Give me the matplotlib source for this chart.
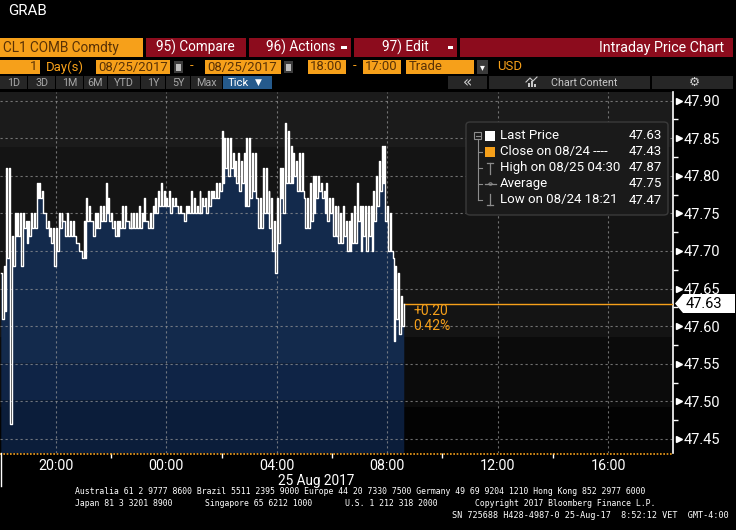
import numpy as np
import matplotlib
matplotlib.use("Agg")
import matplotlib.pyplot as plt
from matplotlib.patches import Rectangle, Polygon, FancyBboxPatch, Circle
from matplotlib.lines import Line2D
from matplotlib import font_manager as fm
from matplotlib.transforms import blended_transform_factory

# ---------------- data ----------------
title = "GRAB"
ticker = "CL1 COMB Comdty"
bar_minutes = 6  # each entry below covers 6 minutes, starting 18:00 on 08/24
price_hi = [47.67, 47.68, 47.81, 47.81, 47.72, 47.75, 47.75, 47.75, 47.75, 47.74,
            47.74, 47.75, 47.75, 47.79, 47.79, 47.78, 47.75, 47.74, 47.73, 47.73,
            47.73, 47.75, 47.75, 47.74, 47.75, 47.74, 47.74, 47.72, 47.71, 47.70,
            47.74, 47.77, 47.76, 47.74, 47.75, 47.75, 47.76, 47.76, 47.79, 47.77,
            47.75, 47.74, 47.74, 47.74, 47.76, 47.76, 47.74, 47.75, 47.75, 47.75,
            47.76, 47.75, 47.77, 47.74, 47.75, 47.76, 47.77, 47.78, 47.79, 47.78,
            47.77, 47.78, 47.77, 47.77, 47.76, 47.76, 47.75, 47.76, 47.76, 47.78,
            47.77, 47.76, 47.78, 47.77, 47.77, 47.78, 47.78, 47.78, 47.79, 47.79,
            47.86, 47.85, 47.85, 47.85, 47.83, 47.82, 47.83, 47.82, 47.83, 47.85,
            47.85, 47.83, 47.83, 47.77, 47.77, 47.81, 47.81, 47.78, 47.77, 47.74,
            47.77, 47.81, 47.81, 47.87, 47.86, 47.84, 47.83, 47.82, 47.83, 47.83,
            47.77, 47.77, 47.79, 47.80, 47.80, 47.80, 47.79, 47.78, 47.79, 47.77,
            47.77, 47.76, 47.76, 47.75, 47.76, 47.74, 47.74, 47.75, 47.76, 47.79,
            47.76, 47.76, 47.76, 47.76, 47.76, 47.78, 47.80, 47.82, 47.84, 47.84,
            47.76, 47.75, 47.69, 47.68, 47.67, 47.64]
price_lo = [47.61, 47.62, 47.69, 47.47, 47.68, 47.72, 47.72, 47.68, 47.73, 47.71,
            47.72, 47.73, 47.73, 47.77, 47.77, 47.75, 47.73, 47.72, 47.71, 47.68,
            47.70, 47.73, 47.74, 47.72, 47.72, 47.72, 47.72, 47.71, 47.70, 47.69,
            47.69, 47.74, 47.74, 47.72, 47.73, 47.73, 47.74, 47.74, 47.75, 47.74,
            47.73, 47.72, 47.72, 47.73, 47.73, 47.74, 47.73, 47.73, 47.73, 47.73,
            47.73, 47.74, 47.74, 47.73, 47.73, 47.75, 47.75, 47.76, 47.76, 47.76,
            47.76, 47.75, 47.76, 47.76, 47.75, 47.75, 47.74, 47.75, 47.75, 47.75,
            47.75, 47.75, 47.75, 47.76, 47.75, 47.76, 47.77, 47.77, 47.77, 47.78,
            47.79, 47.81, 47.80, 47.81, 47.80, 47.79, 47.78, 47.79, 47.76, 47.76,
            47.77, 47.78, 47.77, 47.73, 47.73, 47.75, 47.75, 47.73, 47.70, 47.67,
            47.71, 47.77, 47.75, 47.79, 47.79, 47.79, 47.80, 47.78, 47.78, 47.78,
            47.73, 47.73, 47.74, 47.75, 47.77, 47.78, 47.77, 47.75, 47.74, 47.75,
            47.72, 47.72, 47.71, 47.71, 47.72, 47.70, 47.70, 47.71, 47.71, 47.74,
            47.70, 47.72, 47.70, 47.72, 47.70, 47.74, 47.76, 47.78, 47.79, 47.74,
            47.70, 47.70, 47.58, 47.61, 47.59, 47.60]
last_price = 47.63
prev_close = 47.43
change_abs = "+0.20"
change_pct = "0.42%"
legend_labels = ["Last Price", "Close on 08/24 ----", "High on 08/25 04:30", "Average", "Low on 08/24 18:21"]
legend_values = ["47.63", "47.43", "47.87", "47.75", "47.47"]
x_tick_hours = [2, 6, 10, 14, 18, 22]          # hours after 18:00
x_tick_labels = ["20:00", "00:00", "04:00", "08:00", "12:00", "16:00"]
x_minor_hours = [4, 8, 12, 16, 20]
date_label = "25 Aug 2017"
y_ticks = [47.45, 47.50, 47.55, 47.60, 47.65, 47.70, 47.75, 47.80, 47.85, 47.90]
y_minor = [47.475, 47.525, 47.575, 47.625, 47.675, 47.725, 47.775, 47.825, 47.875]

# ---------------- fonts ----------------
names = {f.name for f in fm.fontManager.ttflist}
if "Liberation Sans Narrow" in names:
    NARROW, NS = "Liberation Sans Narrow", 1.0
else:
    NARROW, NS = ("Roboto" if "Roboto" in names else "DejaVu Sans"), 0.82
SANS = "Roboto" if "Roboto" in names else "DejaVu Sans"
MONO = "DejaVu Sans Mono"
SYM = "DejaVu Sans"

ORANGE = "#f6a01a"
RED = "#8c0c1d"
DARKTXT = "#5a3206"
BTN = "#262626"

W, H = 736, 530
fig = plt.figure(figsize=(W / 100, H / 100), dpi=100, facecolor="black")


def rect(x0, y0, x1, y1, fc, ec="none", lw=0):
    fig.patches.append(Rectangle((x0 / W, 1 - y1 / H), (x1 - x0) / W, (y1 - y0) / H,
                                 transform=fig.transFigure, facecolor=fc, edgecolor=ec, lw=lw))


def txt(x, y, s, size, color="white", ha="left", va="center", family=None, **kw):
    fig.text(x / W, 1 - y / H, s, fontsize=size, color=color, ha=ha, va=va,
             family=family or NARROW, **kw)


def fline(xs, ys, color, lw=1.0):
    fig.add_artist(Line2D([x / W for x in xs], [1 - y / H for y in ys],
                          transform=fig.transFigure, color=color, lw=lw))


# ---------------- header ----------------
txt(8, 11, title, 12 * NS / 0.9 if NS < 1 else 12)
rect(0, 38, 143, 57, ORANGE)
txt(3, 48, ticker, 12 * NS, DARKTXT)
rect(146, 38, 246, 57, RED)
txt(156, 47.5, "95) Compare", 12 * NS)
rect(249, 38, 351, 57, RED)
txt(266, 47.5, "96) Actions", 12 * NS)
rect(341, 46, 347, 49, "white")
rect(354, 38, 457, 57, RED)
txt(382, 47.5, "97) Edit", 12 * NS)
rect(448, 46, 453, 49, "white")
rect(460, 38, 733, 57, RED)
txt(724, 48, "Intraday Price Chart", 12.5 * NS, ha="right")

rect(0, 60, 40, 74, ORANGE)
txt(37, 67, "1", 11.5 * NS, DARKTXT, ha="right")
txt(46, 67, "Day(s)", 11.5 * NS, ORANGE)
rect(96, 60, 170, 74, ORANGE)
txt(98, 67, "08/25/2017", 11.5 * NS, DARKTXT)
rect(174, 61, 183, 73, "#3c3c3c")
rect(176, 64, 181, 71, "#bdbdbd")
txt(190, 66, "-", 11.5 * NS, ORANGE)
rect(205, 60, 281, 74, ORANGE)
txt(207, 67, "08/25/2017", 11.5 * NS, DARKTXT)
rect(284, 61, 293, 73, "#3c3c3c")
rect(286, 64, 291, 71, "#bdbdbd")
rect(308, 60, 346, 74, ORANGE)
txt(310, 67, "18:00", 11.5 * NS, DARKTXT)
txt(353, 66, "-", 11.5 * NS, ORANGE)
rect(363, 60, 401, 74, ORANGE)
txt(365, 67, "17:00", 11.5 * NS, DARKTXT)
rect(406, 60, 474, 74, ORANGE)
txt(409, 67, "Trade", 11.5 * NS, DARKTXT)
rect(477, 60, 488, 74, "#3a3a3a")
txt(482.5, 67, "▾", 7, "white", ha="center", family=SYM)
txt(497, 67, "USD", 11.5 * NS, ORANGE)

for x0, x1, lab in [(0, 27, "1D"), (28, 55, "3D"), (56, 83, "1M"), (84, 107, "6M"),
                    (108, 140, "YTD"), (141, 165, "1Y"), (166, 190, "5Y"), (191, 222, "Max")]:
    rect(x0, 76, x1, 89, BTN)
    txt((x0 + x1) / 2, 82.5, lab, 9.5 * NS, "#a8a8a8", ha="center")
rect(223, 76, 272, 89, "#255a8c")
txt(228, 82.5, "Tick", 10 * NS, "white")
txt(255, 82.5, "▼", 6.5, "white", family=SYM)
rect(448, 76, 487, 89, BTN)
txt(467, 82.5, "«", 11, "#d0d0d0", ha="center", family=SYM)
rect(489, 76, 650, 89, BTN)
for bx, bh in [(528, 4), (531, 6), (534, 3)]:
    rect(bx, 87 - bh, bx + 2, 87, "#c8c8c8")
fline([526, 530, 533, 537], [82, 78, 81, 77], "#c8c8c8", 0.8)
txt(584, 82.5, "Chart Content", 9.5 * NS, "#c8c8c8", ha="center")
rect(652, 76, 733, 89, BTN)
txt(694, 82.5, "⚙", 9, "#d0d0d0", ha="center", family=SYM)

# ---------------- chart ----------------
PX_PER_H = 27.6
X0 = 0.8
ax_left, ax_right, ax_top, ax_bot = 0, 673, 92, 453
ax = fig.add_axes([ax_left / W, 1 - ax_bot / H, (ax_right - ax_left) / W, (ax_bot - ax_top) / H])
ax.set_facecolor("black")


def y_of_px(py):
    return 47.90 - (py - 100.5) / 752.0


ymin, ymax = y_of_px(ax_bot), y_of_px(ax_top)
xmin, xmax = (ax_left - X0) / PX_PER_H, (ax_right - X0) / PX_PER_H

# background bands
for b0, b1, c in [(y_of_px(147), ymax, "#1b1b1b"), (y_of_px(337), y_of_px(147), "#141414"),
                  (y_of_px(407), y_of_px(337), "#0b0b0b"), (ymin, y_of_px(407), "#030303")]:
    ax.axhspan(b0, b1, color=c, lw=0, zorder=0)

t, v = [], []
for i, (h, l) in enumerate(zip(price_hi, price_lo)):
    t0 = i * bar_minutes / 60.0
    t += [t0, t0 + 0.35 * bar_minutes / 60.0]
    v += [h, l]
t_end = len(price_hi) * bar_minutes / 60.0
t.append(t_end)
v.append(last_price)
t = np.array(t)
v = np.array(v)

for b0, b1, c in [(y_of_px(363), ymax, "#132a4c"), (y_of_px(400), y_of_px(363), "#0f2446"),
                  (ymin, y_of_px(400), "#0b1d3a")]:
    ax.fill_between(t, b0, np.clip(v, b0, b1), step="post", color=c, lw=0, zorder=1)

grid_kw = dict(color="#9a9a9a", alpha=0.7, lw=0.8, ls=(0, (2, 2.5)), zorder=2)
for yv in y_ticks:
    ax.axhline(yv, **grid_kw)
for xv in x_tick_hours:
    ax.axvline(xv, **grid_kw)

ax.plot(t, v, drawstyle="steps-post", color="white", lw=1.0, zorder=4)
ax.plot([t_end, xmax], [last_price, last_price], color=ORANGE, lw=1.0, zorder=3)
ax.axhline(prev_close, color=ORANGE, lw=1.2, ls=(0, (1, 1)), clip_on=False, zorder=5)

ax.set_xlim(xmin, xmax)
ax.set_ylim(ymin, ymax)

for s in ["left", "top", "bottom"]:
    ax.spines[s].set_visible(False)
ax.spines["right"].set_color("white")
ax.spines["right"].set_linewidth(1.2)

ax.yaxis.tick_right()
ax.set_yticks(y_ticks)
ax.set_yticklabels([f"{y:.2f}" for y in y_ticks])
ax.set_yticks(y_minor, minor=True)
ax.tick_params(axis="y", which="major", length=0, pad=7.5, labelcolor="white",
               labelsize=10.5, labelfontfamily=SANS)
ax.tick_params(axis="y", which="minor", length=3.6, width=1, color="white")
tri_tr = blended_transform_factory(ax.transAxes, ax.transData)
ax.plot([678.5 / 673] * len(y_ticks), y_ticks, ls="none", marker=">", ms=4.5, color="white",
        transform=tri_tr, clip_on=False, zorder=6)

ax.set_xticks(x_tick_hours)
ax.set_xticklabels(x_tick_labels)
ax.set_xticks(x_minor_hours, minor=True)
ax.tick_params(axis="x", which="major", length=0, pad=4, labelcolor="white",
               labelsize=12.5 * NS, labelfontfamily=NARROW)
ax.tick_params(axis="x", which="minor", length=3.6, width=1, color="white")

# change annotation
txt(413, 311, change_abs, 10, ORANGE, family=SANS)
txt(413, 326, change_pct, 10, ORANGE, family=SANS)

# last price tag
fig.patches.append(Polygon([(675 / W, 1 - 303.5 / H), (683 / W, 1 - 294 / H), (735 / W, 1 - 294 / H),
                            (735 / W, 1 - 313 / H), (683 / W, 1 - 313 / H)], closed=True,
                           transform=fig.transFigure, facecolor="white", edgecolor="none"))
txt(686, 303.5, f"{last_price:.2f}", 10.5, "black", family=SANS)

# legend box
fig.patches.append(FancyBboxPatch((466 / W, 1 - 215 / H), (668 - 466) / W, (215 - 122) / H,
                                  boxstyle="round,pad=0,rounding_size=0.006",
                                  transform=fig.transFigure, facecolor="#1a1a1a",
                                  edgecolor="#3a3a3a", lw=1.0))
rows_y = [136, 152, 168, 184, 200]
TREE = "#8c8c8c"
rect(474, 132, 481, 139, "none", ec=TREE, lw=0.8)
fline([475.5, 479.5], [135.5, 135.5], TREE, 0.8)
fline([477.5, 477.5], [139, 200], TREE, 0.8)
for ry in rows_y[1:]:
    fline([477.5, 482], [ry, ry], TREE, 0.8)
rect(485, 131, 495, 141, "white")
rect(485, 147, 495, 157, ORANGE)
fline([487, 493], [162.5, 162.5], TREE, 0.9)
fline([490, 490], [162.5, 174], TREE, 0.9)
fline([485, 496], [184, 184], TREE, 0.9)
fig.patches.append(Circle((490.5 / W, 1 - 184 / H), 1.6 / W, transform=fig.transFigure,
                          facecolor="#1a1a1a", edgecolor=TREE, lw=0.8))
fline([490, 490], [194, 205], TREE, 0.9)
fline([487, 493], [205, 205], TREE, 0.9)
for ry, lab, val in zip(rows_y, legend_labels, legend_values):
    txt(500, ry, lab, 9.5, "white", family=SANS)
    txt(662, ry, val, 9.5, "white", ha="right", family=SANS)

# bottom
FS = 5.9
txt(316, 481, date_label, 12 * NS, "white", ha="center")
fline([0.5, 0.5], [453, 486], "white", 1.0)
txt(75, 492, "Australia 61 2 9777 8600 Brazil 5511 2395 9000 Europe 44 20 7330 7500 Germany 49 69 9204 1210 Hong Kong 852 2977 6000",
    FS, "white", family=MONO)
txt(75, 503, "Japan 81 3 3201 8900", FS, "white", family=MONO)
txt(205, 503, "Singapore 65 6212 1000", FS, "white", family=MONO)
txt(345, 503, "U.S. 1 212 318 2000", FS, "white", family=MONO)
txt(475, 503, "Copyright 2017 Bloomberg Finance L.P.", FS, "white", family=MONO)
txt(729, 515, "SN 725688 H428-4987-0 25-Aug-17  8:52:12 VET  GMT-4:00", 6.1, "white",
    ha="right", family=MONO)

fig.savefig("out.png", dpi=100, facecolor="black")
